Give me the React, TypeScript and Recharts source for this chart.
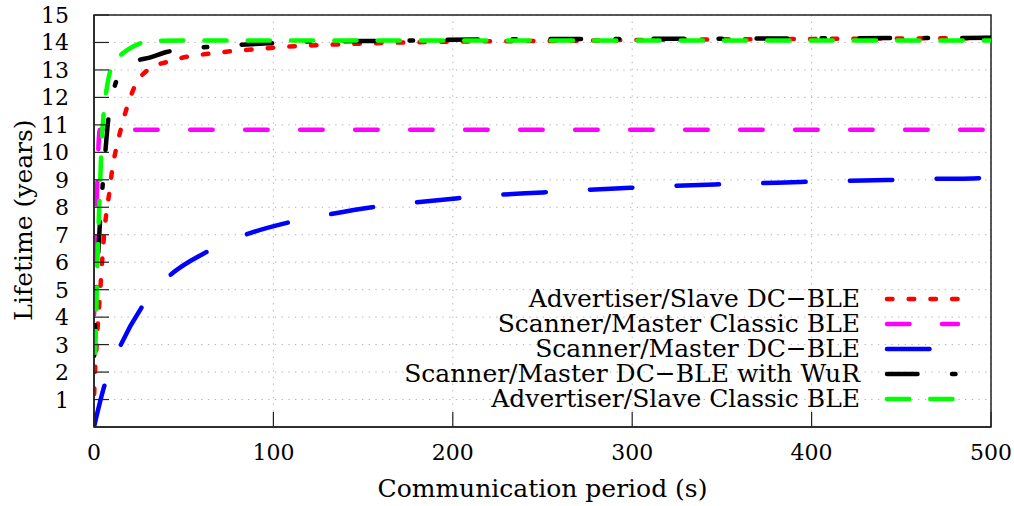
import { LineChart, Line, XAxis, YAxis, CartesianGrid, Legend, ReferenceArea, Label } from "recharts"

// series: [communication period (s), lifetime (years)]
const advSlaveDcBle: [number, number][] = [
  [0.1, 1.2], [0.7, 2.2], [1.5, 3.0], [2.2, 3.8], [3.2, 4.7], [4.3, 5.8], [5.4, 6.8], [6.9, 7.8],
  [8.7, 8.6], [10, 9.3], [12.4, 10.15], [15.2, 10.9], [18.5, 11.66], [22.7, 12.4], [30, 13.0],
  [41, 13.3], [52, 13.48], [65, 13.6], [78, 13.69], [91, 13.76], [100, 13.81], [150, 13.96],
  [200, 14.03], [260, 14.06], [300, 14.09], [400, 14.13], [500, 14.16],
]
const scanMasterClassic: [number, number][] = [
  [0.05, 4.1], [0.3, 5.0], [0.7, 6.6], [1.2, 7.8], [1.8, 8.8], [2.3, 9.9], [2.8, 10.6], [3.3, 10.82],
  [5, 10.82], [100, 10.82], [300, 10.82], [500, 10.82],
]
const scanMasterDcBle: [number, number][] = [
  [0, 0], [6, 1.55], [15, 3.0], [26.5, 4.35], [42, 5.5], [63, 6.38], [84, 6.99], [108, 7.44],
  [131, 7.74], [155, 8.0], [178, 8.17], [203, 8.33], [225, 8.45], [250, 8.54], [273, 8.63],
  [299, 8.71], [320, 8.77], [346, 8.83], [368, 8.87], [394, 8.92], [416, 8.96], [442, 8.99],
  [464, 9.03], [490, 9.05], [500, 9.07],
]
const scanMasterDcBleWuR: [number, number][] = [
  [0.1, 2.6], [0.8, 4.2], [1.8, 5.6], [2.6, 6.6], [3.2, 7.3], [4.7, 8.7], [6.3, 10.0], [7.8, 11.1],
  [11.5, 12.4], [16, 12.95], [22.7, 13.3], [31, 13.45], [41, 13.66], [59, 13.81], [80, 13.91],
  [98, 13.97], [116, 14.03], [150, 14.05], [230, 14.12], [300, 14.13], [400, 14.15], [500, 14.17],
]
const advSlaveClassic: [number, number][] = [
  [0.6, 2.7], [1.1, 3.6], [1.4, 4.6], [1.7, 5.5], [2.2, 6.6], [2.8, 7.8], [3.3, 8.6], [3.7, 9.4],
  [4.1, 10.1], [5.5, 11.5], [7.4, 12.45], [10.6, 13.25], [15, 13.55], [19, 13.75], [25, 13.95],
  [31, 14.06], [60, 14.07], [200, 14.07], [500, 14.07],
]

const xTicks = [0, 100, 200, 300, 400, 500]
const yTicks = [1, 2, 3, 4, 5, 6, 7, 8, 9, 10, 11, 12, 13, 14, 15]

const FONT = "'DejaVu Serif', serif"
const LW = 4.5

const series = [
  { name: "Advertiser/Slave DC\u2212BLE", data: advSlaveDcBle, color: "#ff0000", dash: "5.5 16.2" },
  { name: "Scanner/Master Classic BLE", data: scanMasterClassic, color: "#ff00ff", dash: "22.5 32.5" },
  { name: "Scanner/Master DC\u2212BLE", data: scanMasterDcBle, color: "#0000ff", dash: "42.5 44.2" },
  { name: "Scanner/Master DC\u2212BLE with WuR", data: scanMasterDcBleWuR, color: "#000000", dash: "30.5 34.5 3.5 34.5" },
  { name: "Advertiser/Slave Classic BLE", data: advSlaveClassic, color: "#00ff00", dash: "22.2 21.1" },
]

const toPoints = (d: [number, number][]) => d.map(([x, y]) => ({ x, y }))

const Y_MARGIN = 25
const X_MARGIN = 24

function YTick(props: any) {
  const { x, y, payload } = props
  return (
    <g>
      <line x1={x + Y_MARGIN} x2={x + Y_MARGIN + 15} y1={y} y2={y} stroke="#222" strokeWidth={1.2} />
      <text x={x} y={y} dy={8} textAnchor="end" fontFamily={FONT} fontSize={22} fill="#000">
        {payload.value}
      </text>
    </g>
  )
}

function XTick(props: any) {
  const { x, y, payload } = props
  return (
    <g>
      <line x1={x} x2={x} y1={y - X_MARGIN} y2={y - X_MARGIN - 15} stroke="#222" strokeWidth={1.2} />
      <text x={x} y={y} dy={9} textAnchor="middle" fontFamily={FONT} fontSize={22} fill="#000">
        {payload.value}
      </text>
    </g>
  )
}

function LegendBox() {
  return (
    <svg width={800} height={130} style={{ display: "block" }}>
      {series.map((s, i) => {
        const cy = 15 + i * 25
        return (
          <g key={s.name}>
            <text x={680} y={cy + 8} textAnchor="end" fontFamily={FONT} fontSize={25} fill="#000">
              {s.name}
            </text>
            <line x1={707} x2={778} y1={cy} y2={cy} stroke={s.color} strokeWidth={LW}
              strokeDasharray={s.dash} strokeLinecap="round" />
          </g>
        )
      })}
    </svg>
  )
}

export default function App() {
  return (
    <div style={{ position: "absolute", left: 0, top: 0, background: "#fff" }}>
      <LineChart width={1014} height={506} margin={{ top: 15, right: 23, bottom: 0, left: 0 }}>
        <CartesianGrid stroke="#b0b0b0" strokeDasharray="1.3 5.4" strokeWidth={1} />
        <XAxis type="number" dataKey="x" domain={[0, 500]} ticks={xTicks} height={79}
          tickSize={0} tickMargin={X_MARGIN} tick={<XTick />} allowDataOverflow
          axisLine={{ stroke: "#222", strokeWidth: 1.5 }}>
          <Label content={({ viewBox }: any) => (
            <text x={viewBox.x + viewBox.width / 2} y={viewBox.y + 70} textAnchor="middle"
              fontFamily={FONT} fontSize={25} fill="#000">Communication period (s)</text>
          )} />
        </XAxis>
        <YAxis type="number" domain={[0, 15]} ticks={yTicks} width={94} tickSize={0}
          tickMargin={Y_MARGIN} tick={<YTick />} allowDataOverflow
          axisLine={{ stroke: "#222", strokeWidth: 1.5 }}>
          <Label content={({ viewBox }: any) => {
            const cx = 32
            const cy = viewBox.y + viewBox.height / 2 - 1
            return (
              <text x={cx} y={cy} transform={`rotate(-90 ${cx} ${cy})`} textAnchor="middle"
                fontFamily={FONT} fontSize={25} fill="#000">Lifetime (years)</text>
            )
          }} />
        </YAxis>
        <ReferenceArea x1={0} x2={500} y1={0} y2={15} fill="none" stroke="#222" strokeWidth={1.5}
          ifOverflow="visible" />
        {series.map((s) => (
          <Line key={s.name} data={toPoints(s.data)} dataKey="y" name={s.name} type="monotone"
            stroke={s.color} strokeWidth={LW} strokeDasharray={s.dash} strokeLinecap="round"
            dot={false} activeDot={false} isAnimationActive={false} />
        ))}
        <Legend layout="vertical" align="center" verticalAlign="middle" content={() => <LegendBox />}
          wrapperStyle={{ position: "absolute", left: 180, top: 284, width: 800, height: 130 }} />
      </LineChart>
    </div>
  )
}
